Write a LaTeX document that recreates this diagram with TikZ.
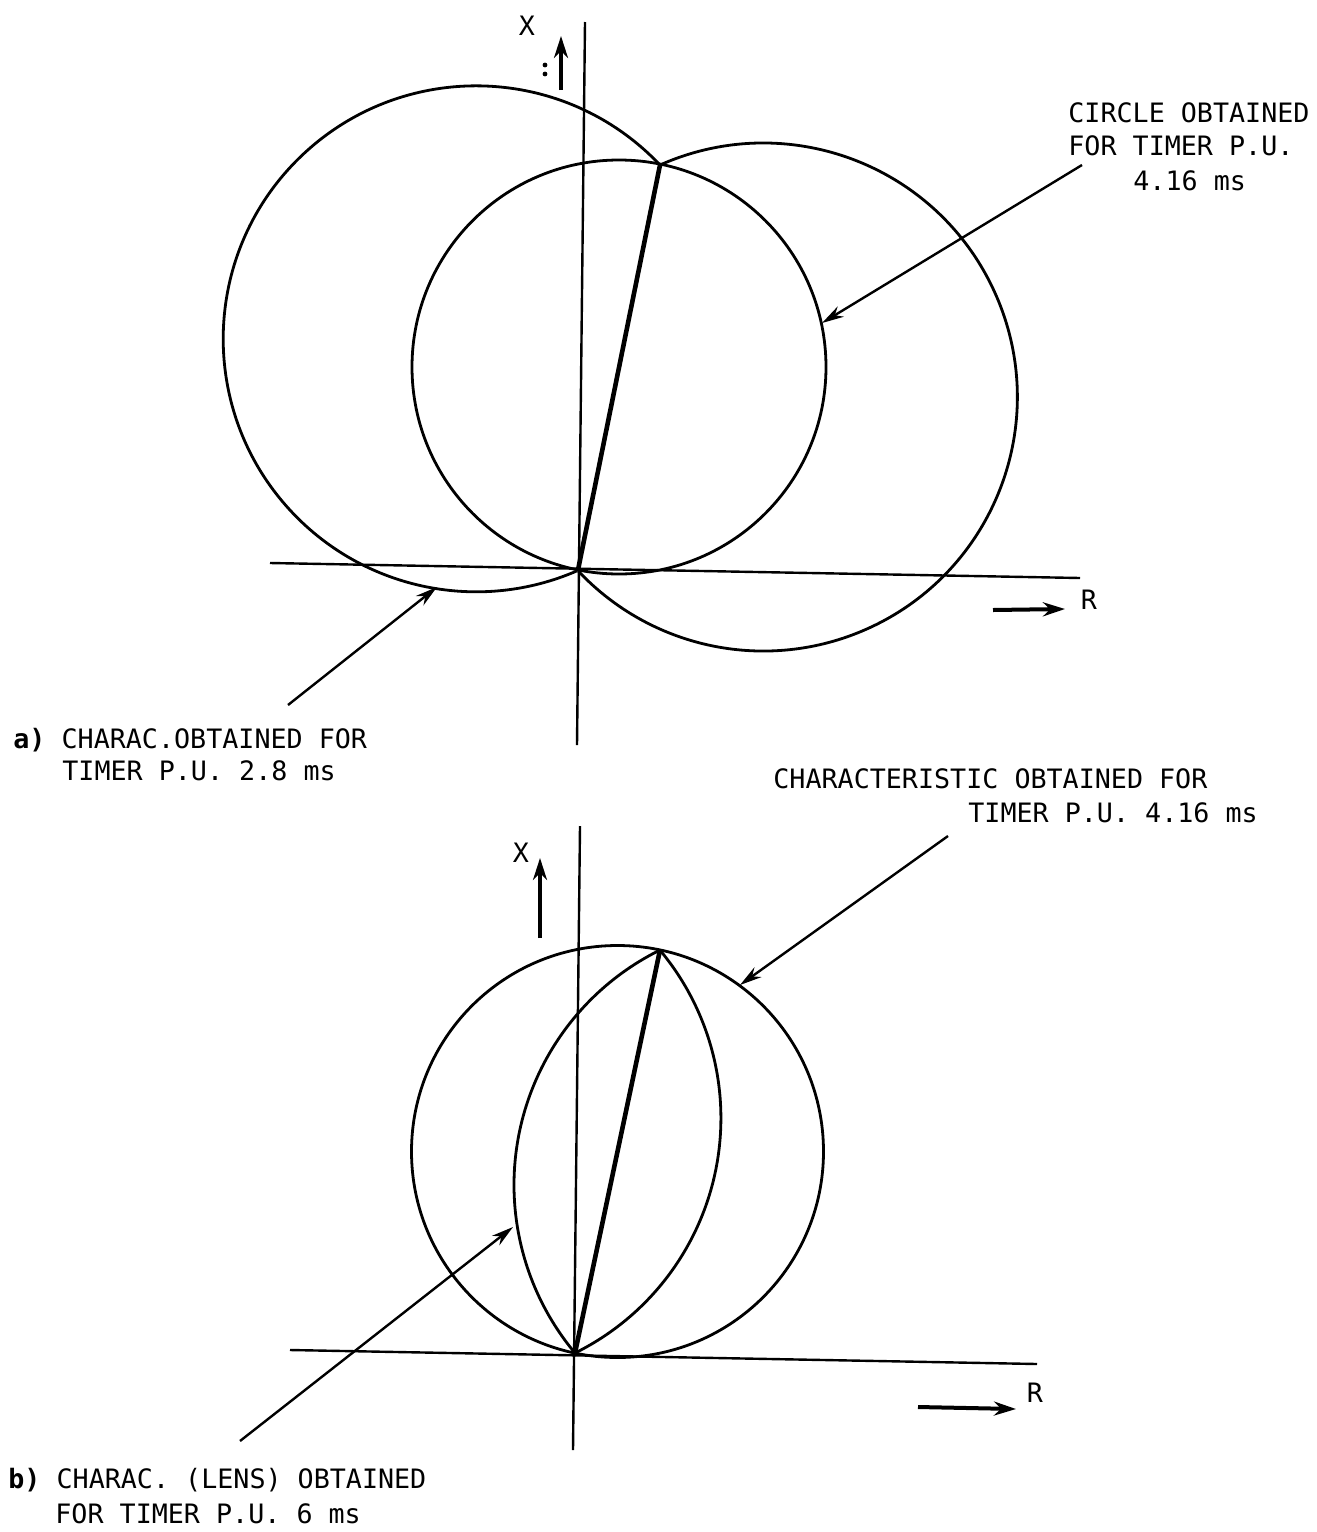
\documentclass[tikz,border=0pt]{standalone}
\usepackage{fontspec}
\newfontfamily\lblfont{DejaVu Sans Mono}
\usetikzlibrary{arrows.meta}
\begin{document}
\begin{tikzpicture}[x=0.5pt,y=-0.5pt,
  curve/.style={line width=1.4pt},
  axisline/.style={line width=1.2pt},
  diam/.style={line width=2.3pt},
  lead/.style={line width=1.2pt,-{Stealth[length=11pt,width=6pt]}},
  axarrow/.style={line width=2pt,-{Stealth[length=11pt,width=7pt]}},
  lbl/.style={font=\lblfont\fontsize{13.35}{16}\selectfont,anchor=base west,inner sep=0pt},
  axlbl/.style={font=\lblfont\fontsize{13.35}{16}\selectfont,inner sep=0pt}]
\useasboundingbox (0,0) rectangle (1317,1532);

% ---------------- (a) ----------------
\coordinate (Oa) at (578,570);
\coordinate (Pa) at (660,165);
\coordinate (aT) at (585,22);
\coordinate (aB) at (577,745);
\coordinate (aL) at (270,563);
\coordinate (aR) at (1080,578);
\draw[axisline] (aT) -- (aB);
\draw[axisline] (aL) -- (aR);
\draw[curve] (619,367) circle[radius=207];
\draw[curve] (Pa) arc[start angle=-43.4,end angle=-293.5,radius=253];
\draw[curve] (Pa) arc[start angle=-114,end angle=136.8,radius=254];
\draw[diam] (Oa) -- (Pa);

\coordinate (xa1) at (561,90);
\coordinate (xa2) at (561,36);
\draw[axarrow] (xa1) -- (xa2);
\node[axlbl] (Xa) at (527,26) {X};
\fill (545,65) circle[radius=2.4];
\fill (545,74) circle[radius=2.4];
\coordinate (ra1) at (993,610);
\coordinate (ra2) at (1065,609);
\draw[axarrow] (ra1) -- (ra2);
\node[axlbl] (Ra) at (1089,600) {R};

\node[lbl] (ta1) at (1068,122) {CIRCLE OBTAINED};
\node[lbl] (ta2) at (1068,155) {FOR TIMER P.U.};
\node[lbl] (ta3) at (1133,190) {4.16 ms};
\coordinate (la1) at (1082,165);
\coordinate (la2) at (822,323);
\draw[lead] (la1) -- (la2);

\node[lbl] (tb1) at (13,748) {\bfseries a)\mdseries{} CHARAC.OBTAINED FOR};
\node[lbl] (tb2) at (62,780) {TIMER P.U. 2.8 ms};
\coordinate (lb1) at (288,705);
\coordinate (lb2) at (437,587);
\draw[lead] (lb1) -- (lb2);

% ---------------- (b) ----------------
\coordinate (Ob) at (575,1353);
\coordinate (Pb) at (660,950);
\coordinate (bT) at (580,826);
\coordinate (bB) at (573,1450);
\coordinate (bL) at (290,1350);
\coordinate (bR) at (1037,1364);
\draw[axisline] (bT) -- (bB);
\draw[axisline] (bL) -- (bR);
\draw[curve] (617.5,1151.5) circle[radius=206];
\draw[curve] (Ob) arc[start angle=140.1,end angle=243.7,radius=262];
\draw[curve] (Ob) arc[start angle=63.7,end angle=-39.9,radius=262];
\draw[diam] (Ob) -- (Pb);

\coordinate (xb1) at (540,938);
\coordinate (xb2) at (540,858);
\draw[axarrow] (xb1) -- (xb2);
\node[axlbl] (Xb) at (521,853) {X};
\coordinate (rb1) at (918,1407);
\coordinate (rb2) at (1016,1409);
\draw[axarrow] (rb1) -- (rb2);
\node[axlbl] (Rb) at (1035,1393) {R};

\node[lbl] (tc1) at (773,788) {CHARACTERISTIC OBTAINED FOR};
\node[lbl] (tc2) at (968,822) {TIMER P.U. 4.16 ms};
\coordinate (lc1) at (948,836);
\coordinate (lc2) at (740,985);
\draw[lead] (lc1) -- (lc2);

\node[lbl] (td1) at (8,1488) {\bfseries b)\mdseries{} CHARAC. (LENS) OBTAINED};
\node[lbl] (td2) at (55,1523) {FOR TIMER P.U. 6 ms};
\coordinate (ld1) at (240,1441);
\coordinate (ld2) at (513,1227);
\draw[lead] (ld1) -- (ld2);
\end{tikzpicture}
\end{document}
